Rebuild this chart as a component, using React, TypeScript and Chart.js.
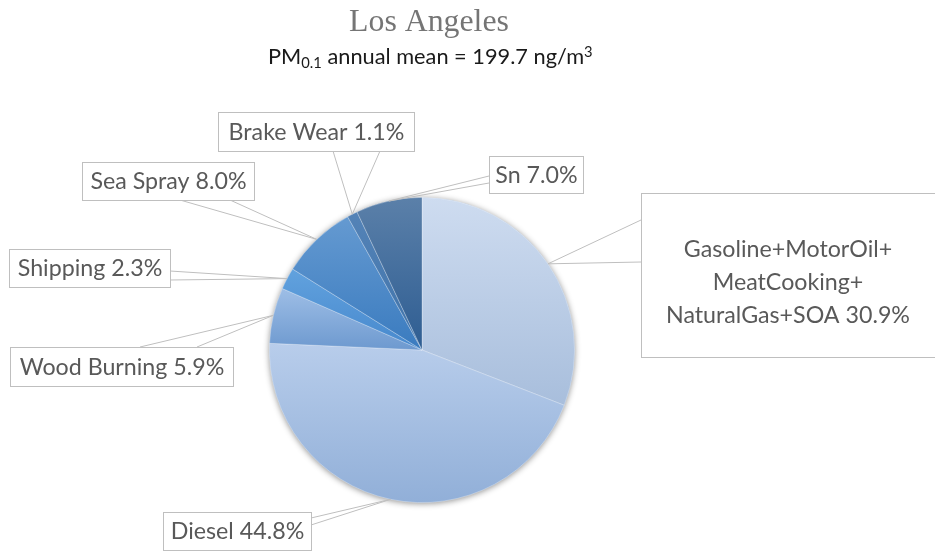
import React, { useEffect, useRef } from 'react';
import { Chart, registerables } from 'chart.js';

Chart.register(...registerables);

// ---------- data ----------
const categories = [
  'Gasoline+MotorOil+MeatCooking+NaturalGas+SOA',
  'Diesel',
  'Wood Burning',
  'Shipping',
  'Sea Spray',
  'Brake Wear',
  'Sn',
];
const shares = [30.9, 44.8, 5.9, 2.3, 8.0, 1.1, 7.0];
const calloutLines = [
  ['Gasoline+MotorOil+', 'MeatCooking+', 'NaturalGas+SOA'],
  ['Diesel'],
  ['Wood Burning'],
  ['Shipping'],
  ['Sea Spray'],
  ['Brake Wear'],
  ['Sn'],
];
const topColors = ['#cedcf0', '#b8cdeb', '#9ebee6', '#62a2de', '#659ad1', '#5483b7', '#5b80a9'];
const bottomColors = ['#a8bedc', '#91afd8', '#6d99cf', '#4688cd', '#3a7bbf', '#3f73aa', '#2e5d92'];
const titleText = 'Los Angeles';
const subtitleParts = ['PM', '0.1', ' annual mean = 199.7 ng/m', '3'];

// ---------- layout (positions / sizes) ----------
const CALLOUTS = [
  { box: [641, 193, 330, 164], base: [[641, 220], [641, 262]], baselines: [257, 290, 323], cx: 788 },
  { box: [163, 512, 148, 38], base: [[311, 518], [311, 525]] },
  { box: [10, 347, 223, 39], base: [[140, 347], [197, 347]] },
  { box: [9, 249, 161, 38], base: [[170, 271], [170, 280]] },
  { box: [82, 162, 172, 38], base: [[180, 200], [230, 200]] },
  { box: [218, 112, 196, 39], base: [[333, 151], [380, 151]] },
  { box: [489, 156, 94, 37], base: [[489, 176], [489, 183]] },
];
const LABEL_FONT = 'Lato, "Open Sans", sans-serif';

function fitSize(ctx: CanvasRenderingContext2D, family: string, text: string, target: number) {
  ctx.font = `100px ${family}`;
  const w = ctx.measureText(text).width;
  return (100 * target) / w;
}

function sliceYRange(cy: number, r: number, a0: number, a1: number) {
  const ys = [cy, cy + r * Math.sin(a0), cy + r * Math.sin(a1)];
  const inRange = (a: number) => a >= a0 && a <= a1;
  if (inRange(Math.PI / 2)) ys.push(cy + r);
  if (inRange(-Math.PI / 2) || inRange((3 * Math.PI) / 2)) ys.push(cy - r);
  return [Math.min(...ys), Math.max(...ys)];
}

const total = shares.reduce((a, b) => a + b, 0);

const gradientColor = (c: any) => {
  const chart = c.chart;
  const i = c.dataIndex;
  const ca = chart.chartArea;
  if (!ca || i === undefined) return topColors[i ?? 0];
  const cx = (ca.left + ca.right) / 2;
  const cy = (ca.top + ca.bottom) / 2;
  const r = Math.min(ca.right - ca.left, ca.bottom - ca.top) / 2;
  let before = 0;
  for (let k = 0; k < i; k++) before += shares[k];
  const a0 = -Math.PI / 2 + (before / total) * Math.PI * 2;
  const a1 = a0 + (shares[i] / total) * Math.PI * 2;
  const [y0, y1] = sliceYRange(cy, r, a0, a1);
  const g = chart.ctx.createLinearGradient(cx, y0, cx, y1 + 0.01);
  g.addColorStop(0, topColors[i]);
  g.addColorStop(1, bottomColors[i]);
  return g;
};

const decorPlugin = {
  id: 'decor',
  beforeDatasetsDraw(chart: any) {
    const meta = chart.getDatasetMeta(0);
    const arc = meta.data[0];
    if (!arc) return;
    const ctx = chart.ctx;
    ctx.save();
    ctx.shadowColor = 'rgba(0,0,0,0.45)';
    ctx.shadowBlur = 6;
    ctx.shadowOffsetX = 0;
    ctx.shadowOffsetY = 1;
    ctx.beginPath();
    ctx.arc(arc.x, arc.y, arc.outerRadius, 0, Math.PI * 2);
    ctx.fillStyle = '#a9bfdc';
    ctx.fill();
    ctx.restore();
  },
  afterDatasetsDraw(chart: any) {
    const ctx = chart.ctx;
    const meta = chart.getDatasetMeta(0);
    const labelSize = fitSize(ctx, LABEL_FONT, 'Brake Wear 1.1%', 176);
    ctx.save();
    // leader wedges
    ctx.strokeStyle = '#bfbfbf';
    ctx.lineWidth = 1;
    meta.data.forEach((arc: any, i: number) => {
      const mid = (arc.startAngle + arc.endAngle) / 2;
      const ax = arc.x + arc.outerRadius * Math.cos(mid);
      const ay = arc.y + arc.outerRadius * Math.sin(mid);
      const co = CALLOUTS[i];
      ctx.beginPath();
      ctx.moveTo(co.base[0][0], co.base[0][1]);
      ctx.lineTo(ax, ay);
      ctx.lineTo(co.base[1][0], co.base[1][1]);
      ctx.stroke();
    });
    // boxes + text
    meta.data.forEach((_arc: any, i: number) => {
      const co = CALLOUTS[i];
      const [bx, by, bw, bh] = co.box;
      ctx.fillStyle = '#ffffff';
      ctx.fillRect(bx + 0.5, by + 0.5, bw, bh);
      ctx.strokeStyle = '#bfbfbf';
      ctx.strokeRect(bx + 0.5, by + 0.5, bw, bh);
      const lines = calloutLines[i].slice();
      lines[lines.length - 1] = `${lines[lines.length - 1]} ${shares[i].toFixed(1)}%`;
      ctx.fillStyle = '#595959';
      ctx.font = `${labelSize}px ${LABEL_FONT}`;
      ctx.textAlign = 'center';
      ctx.textBaseline = 'alphabetic';
      if (co.baselines) {
        lines.forEach((t, k) => ctx.fillText(t, co.cx, co.baselines[k]));
      } else {
        ctx.fillText(lines[0], bx + bw / 2 + 0.5, by + bh / 2 + labelSize * 0.36);
      }
    });
    ctx.restore();
  },
  afterDraw(chart: any) {
    const ctx = chart.ctx;
    ctx.save();
    // title
    const serif = '"Liberation Serif", "Times New Roman", serif';
    const ts = fitSize(ctx, serif, titleText, 160);
    ctx.font = `${ts}px ${serif}`;
    ctx.fillStyle = '#757575';
    ctx.textAlign = 'center';
    ctx.textBaseline = 'alphabetic';
    ctx.fillText(titleText, 429, 31);
    // subtitle with sub/superscript
    const base = 17;
    const small = 11.5;
    const widthAt = () => {
      let w = 0;
      subtitleParts.forEach((p, k) => {
        ctx.font = `${k % 2 === 1 ? small : base}px ${LABEL_FONT}`;
        w += ctx.measureText(p).width;
      });
      return w;
    };
    const scale = 325 / widthAt();
    let x = 268;
    const y = 64;
    ctx.textAlign = 'left';
    ctx.fillStyle = '#1a1a1a';
    subtitleParts.forEach((p, k) => {
      const isScript = k % 2 === 1;
      const size = (isScript ? small : base) * scale;
      ctx.font = `${size}px ${LABEL_FONT}`;
      let yy = y;
      if (k === 1) yy = y + 4;
      if (k === 3) yy = y - 7;
      ctx.fillText(p, x, yy);
      x += ctx.measureText(p).width;
    });
    ctx.restore();
  },
};

export default function App() {
  const ref = useRef<HTMLCanvasElement | null>(null);
  useEffect(() => {
    if (!ref.current) return;
    const chart = new Chart(ref.current, {
      type: 'pie',
      data: {
        labels: categories,
        datasets: [
          {
            data: shares,
            backgroundColor: gradientColor as any,
            borderColor: 'rgba(255,255,255,0.35)',
            borderWidth: 0.8,
          },
        ],
      },
      options: {
        responsive: false,
        animation: false,
        layout: { padding: { top: 197, bottom: 48, left: 269, right: 360 } },
        plugins: {
          legend: { display: false },
          tooltip: { enabled: false },
          title: { display: false },
        },
      },
      plugins: [decorPlugin],
    });
    return () => chart.destroy();
  }, []);
  return (
    <div style={{ position: 'fixed', left: 0, top: 0, width: 935, height: 551, background: '#ffffff' }}>
      <canvas ref={ref} width={935} height={551} style={{ display: 'block', width: 935, height: 551 }} />
    </div>
  );
}
